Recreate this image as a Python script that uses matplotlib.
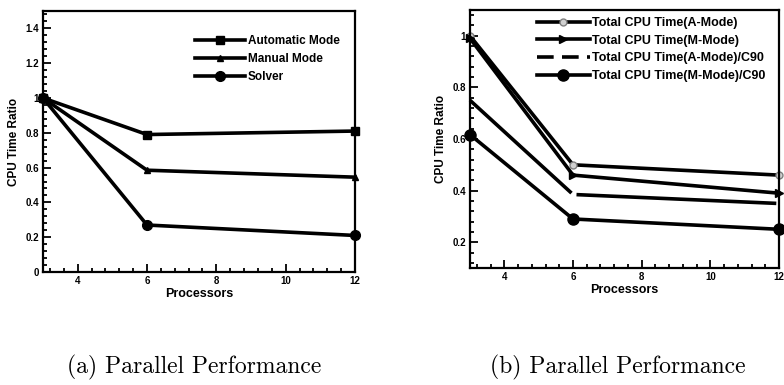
import matplotlib
matplotlib.use("Agg")
import matplotlib.pyplot as plt
from matplotlib.lines import Line2D
from matplotlib.ticker import MultipleLocator, FormatStrFormatter

# processor counts shared by both panels
procs = [3, 6, 12]

# (a) CPU time ratio per mode
auto_mode = [1.0, 0.79, 0.81]
manual_mode = [1.0, 0.585, 0.545]
solver = [1.0, 0.27, 0.21]

# (b) total CPU time ratio, plus the same normalised to the C90
total_a = [1.0, 0.50, 0.46]
total_m = [0.99, 0.46, 0.39]
total_a_c90 = [0.75, 0.385, 0.35]
total_m_c90 = [0.617, 0.29, 0.25]

labels_a = ["Automatic Mode", "Manual Mode", "Solver"]
labels_b = ["Total CPU Time(A-Mode)", "Total CPU Time(M-Mode)",
            "Total CPU Time(A-Mode)/C90", "Total CPU Time(M-Mode)/C90"]
captions = ["(a) Parallel Performance", "(b) Parallel Performance"]

plt.rcParams["font.family"] = ["Liberation Sans", "DejaVu Sans"]
plt.rcParams["font.weight"] = "bold"
plt.rcParams["lines.scale_dashes"] = False

W, H = 784, 385
fig = plt.figure(figsize=(W / 100, H / 100), dpi=100)
ax1 = fig.add_axes([43 / W, 1 - 272 / H, 312 / W, 261 / H])
ax2 = fig.add_axes([470 / W, 1 - 268 / H, 309 / W, 258 / H])

lw = 2.6


def style_axes(ax, ymajor, yminor):
    for s in ax.spines.values():
        s.set_linewidth(1.6)
    ax.set_xlim(3, 12)
    ax.set_xticks([4, 6, 8, 10, 12])
    ax.xaxis.set_minor_locator(MultipleLocator(0.4))
    ax.yaxis.set_major_locator(MultipleLocator(ymajor))
    ax.yaxis.set_minor_locator(MultipleLocator(yminor))
    ax.yaxis.set_major_formatter(FormatStrFormatter("%g"))
    ax.tick_params(which="both", direction="in", top=False, right=False,
                   labelsize=7, width=1.3)
    ax.tick_params(which="major", length=6, pad=3)
    ax.tick_params(which="minor", length=3)
    for t in ax.get_xticklabels() + ax.get_yticklabels():
        t.set_fontweight("bold")
    ax.set_xlabel("Processors", fontsize=9, fontweight="bold", labelpad=1)
    ax.set_ylabel("CPU Time Ratio", fontsize=8.5, fontweight="bold", labelpad=4)


# panel (a)
ax1.plot(procs, auto_mode, color="black", lw=lw, marker="s", ms=5.5,
         label=labels_a[0], clip_on=False)
ax1.plot(procs, manual_mode, color="black", lw=lw, marker="^", ms=5,
         label=labels_a[1], clip_on=False)
ax1.plot(procs, solver, color="black", lw=lw, marker="o", ms=7,
         label=labels_a[2], clip_on=False)
ax1.set_ylim(0, 1.5)
style_axes(ax1, 0.2, 0.04)
ax1.legend(loc="upper left", bbox_to_anchor=(195 / W, 1 - 35 / H),
           bbox_transform=fig.transFigure, frameon=False, borderpad=0,
           borderaxespad=0, handlelength=4.2, handletextpad=0.3,
           labelspacing=0.5, prop={"weight": "bold", "size": 8.5})

# panel (b); the A-Mode/C90 curve is a long-dash line
ax2.plot(procs, total_a, color="black", lw=lw, marker="o", ms=5,
         mfc="#d0d0d0", mec="#808080", clip_on=False)
ax2.plot(procs, total_m, color="black", lw=lw, marker=">", ms=6, clip_on=False)
ax2.plot(procs, total_a_c90, color="black", lw=lw,
         dashes=(99, 4, 144, 10), clip_on=False)
ax2.plot(procs, total_m_c90, color="black", lw=lw, marker="o", ms=8,
         clip_on=False)
ax2.set_ylim(0.1, 1.1)
style_axes(ax2, 0.2, 0.04)

handles_b = [
    Line2D([], [], color="black", lw=lw, marker="o", ms=5,
           mfc="#d0d0d0", mec="#808080"),
    Line2D([], [], color="black", lw=lw, marker=">", ms=6),
    Line2D([], [], color="black", lw=lw, dashes=(12, 6)),
    Line2D([], [], color="black", lw=lw, marker="o", ms=8),
]
ax2.legend(handles_b, labels_b, loc="upper left",
           bbox_to_anchor=(537 / W, 1 - 17 / H), bbox_transform=fig.transFigure,
           frameon=False, borderpad=0, borderaxespad=0, handlelength=4.2,
           handletextpad=0.2, labelspacing=0.45,
           prop={"weight": "bold", "size": 9})

# captions under each panel
for cx, cap in zip([194, 618], captions):
    fig.text(cx / W, 1 - 367 / H, cap, family="cmr10", fontsize=17,
             fontweight="normal", ha="center", va="center")

fig.savefig("out.png", dpi=100)
